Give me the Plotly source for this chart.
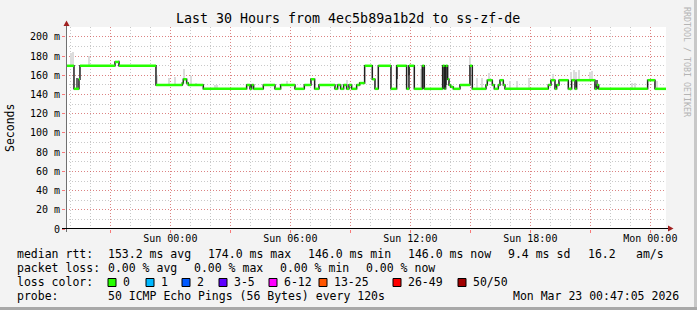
import plotly.graph_objects as go

# ---------------- data ----------------
start_time = "2026-03-21 18:47:05"
end_time = "2026-03-23 00:47:05"

step_times = [
    "2026-03-21 18:47:05", "2026-03-21 19:11", "2026-03-21 19:26", "2026-03-21 19:29",
    "2026-03-21 21:14", "2026-03-21 21:26", "2026-03-21 23:17",
    "2026-03-22 00:36", "2026-03-22 00:39", "2026-03-22 00:49", "2026-03-22 00:54",
    "2026-03-22 01:39", "2026-03-22 03:49", "2026-03-22 03:59", "2026-03-22 04:04",
    "2026-03-22 04:10", "2026-03-22 04:39", "2026-03-22 05:14", "2026-03-22 05:31",
    "2026-03-22 06:14", "2026-03-22 06:42", "2026-03-22 07:02", "2026-03-22 07:13",
    "2026-03-22 07:26", "2026-03-22 08:14", "2026-03-22 08:22", "2026-03-22 08:31",
    "2026-03-22 08:40", "2026-03-22 08:49", "2026-03-22 08:56", "2026-03-22 09:04",
    "2026-03-22 09:19", "2026-03-22 09:28", "2026-03-22 09:43", "2026-03-22 10:06",
    "2026-03-22 10:14", "2026-03-22 10:24", "2026-03-22 11:02", "2026-03-22 11:19",
    "2026-03-22 11:49", "2026-03-22 11:56", "2026-03-22 12:12", "2026-03-22 12:36",
    "2026-03-22 12:42", "2026-03-22 13:37", "2026-03-22 13:43", "2026-03-22 13:46",
    "2026-03-22 13:52", "2026-03-22 13:56", "2026-03-22 14:01", "2026-03-22 14:09",
    "2026-03-22 14:29", "2026-03-22 14:59", "2026-03-22 15:06", "2026-03-22 15:47",
    "2026-03-22 15:51", "2026-03-22 16:06", "2026-03-22 16:12", "2026-03-22 16:24",
    "2026-03-22 16:29", "2026-03-22 16:39", "2026-03-22 16:44", "2026-03-22 18:54",
    "2026-03-22 19:02", "2026-03-22 19:14", "2026-03-22 19:19", "2026-03-22 19:26",
    "2026-03-22 19:54", "2026-03-22 20:04", "2026-03-22 20:14", "2026-03-22 20:19",
    "2026-03-22 21:14", "2026-03-22 21:19", "2026-03-22 21:25", "2026-03-22 23:52",
    "2026-03-23 00:14",
]
median_ms = [
    170, 146, 156, 170,
    174, 170, 150,
    152, 156, 152, 150,
    146, 150, 146, 150,
    146, 150, 146, 150,
    146, 150, 156, 146,
    150, 146, 150, 146,
    150, 146, 150, 146,
    150, 152, 170, 156,
    146, 170, 146, 170,
    146, 170, 146, 170,
    146, 170, 146, 170,
    156, 150, 148, 146,
    150, 170, 146, 150,
    155, 150, 146, 150,
    155, 150, 146, 150,
    155, 146, 150, 155,
    146, 155, 146, 155,
    146, 150, 146, 155,
    146,
]

smoke_light_times = [
    "2026-03-21 19:02", "2026-03-21 19:08", "2026-03-21 19:57", "2026-03-21 21:26",
    "2026-03-21 23:21", "2026-03-21 23:56", "2026-03-22 00:14", "2026-03-22 00:41",
    "2026-03-22 01:03", "2026-03-22 01:19", "2026-03-22 02:16", "2026-03-22 02:20",
    "2026-03-22 05:52", "2026-03-22 08:52", "2026-03-22 12:32", "2026-03-22 14:59",
    "2026-03-22 15:20", "2026-03-22 15:37", "2026-03-22 15:58", "2026-03-22 17:01",
    "2026-03-22 17:22", "2026-03-22 17:56", "2026-03-22 19:09", "2026-03-22 20:04",
    "2026-03-22 20:11", "2026-03-22 20:19", "2026-03-22 20:26", "2026-03-22 21:01",
    "2026-03-22 21:07", "2026-03-22 23:07", "2026-03-22 23:16", "2026-03-23 00:22",
]
smoke_light_lo = [
    170, 170, 170, 170, 150, 150, 150, 156, 150, 150, 146, 146, 150, 146, 146, 150,
    146, 146, 155, 146, 146, 146, 155, 155, 155, 155, 155, 155, 155, 146, 146, 146,
]
smoke_light_hi = [
    183, 184, 180, 176, 160, 157, 158, 167, 159, 152, 150, 150, 154, 155, 167, 180,
    157, 157, 163, 154, 154, 157, 161, 164, 166, 164, 166, 164, 165, 152, 152, 154,
]

smoke_dark_times = [
    "2026-03-21 19:20", "2026-03-22 11:20", "2026-03-22 11:56", "2026-03-22 12:41",
    "2026-03-22 13:40", "2026-03-22 13:49", "2026-03-22 21:20",
]
smoke_dark_lo = [146, 156, 160, 146, 146, 150, 146]
smoke_dark_hi = [157, 170, 170, 170, 170, 170, 155]

y_tick_vals = [0, 20, 40, 60, 80, 100, 120, 140, 160, 180, 200]
y_tick_text = ["0", "20 m", "40 m", "60 m", "80 m", "100 m", "120 m",
               "140 m", "160 m", "180 m", "200 m"]

x_tick_vals = ["2026-03-21 21:00", "2026-03-22 00:00", "2026-03-22 03:00",
               "2026-03-22 06:00", "2026-03-22 09:00", "2026-03-22 12:00",
               "2026-03-22 15:00", "2026-03-22 18:00", "2026-03-22 21:00",
               "2026-03-23 00:00"]
x_tick_text = ["", "Sun 00:00", "", "Sun 06:00", "", "Sun 12:00", "",
               "Sun 18:00", "", "Mon 00:00"]

title_text = "Last 30 Hours from 4ec5b89a1b2d to ss-zf-de"

legend_rows = [
    [("median rtt:", 16), ("153.2 ms avg", 107), ("174.0 ms max", 207),
     ("146.0 ms min", 307), ("146.0 ms now", 407), ("9.4 ms sd", 507),
     ("16.2", 587), ("am/s", 635)],
    [("packet loss:", 16), ("0.00 % avg", 107), ("0.00 % max", 193),
     ("0.00 % min", 279), ("0.00 % now", 365)],
    [("loss color:", 16)],
    [("probe:", 16), ("50 ICMP Echo Pings (56 Bytes) every 120s", 107)],
]
loss_labels = ["0", "1", "2", "3-5", "6-12", "13-25", "26-49", "50/50"]
loss_colors = ["#26ff00", "#00b8ff", "#0059ff", "#5e00ff", "#ff00ff",
               "#ff5500", "#ff0000", "#a10000"]
loss_box_x = [108, 146, 182, 219, 269, 319, 393, 458]
timestamp_text = "Mon Mar 23 00:47:05 2026"

# ---------------- geometry ----------------
W, H = 697, 310
L, R, T, B = 66, 31, 27, 81
PW, PH = W - L - R, H - T - B
MONO = "DejaVu Sans Mono"


def px(x):
    return (x - L) / PW


def py(y):
    return (H - B - y) / PH


fig = go.Figure()

# smoke
fig.add_trace(go.Bar(
    x=smoke_light_times, base=smoke_light_lo,
    y=[h - l for h, l in zip(smoke_light_hi, smoke_light_lo)],
    width=300000, marker=dict(color="#dcdcdc", line=dict(width=0)),
    hoverinfo="skip", showlegend=False))
fig.add_trace(go.Bar(
    x=smoke_dark_times, base=smoke_dark_lo,
    y=[h - l for h, l in zip(smoke_dark_hi, smoke_dark_lo)],
    width=300000, marker=dict(color="#6a6a6a", line=dict(width=0)),
    hoverinfo="skip", showlegend=False))

# median step line (black transitions)
fig.add_trace(go.Scatter(
    x=step_times + [end_time], y=median_ms + [median_ms[-1]],
    mode="lines", line=dict(color="#202020", width=1.5, shape="hv"),
    hoverinfo="skip", showlegend=False))

# green (0 % loss) horizontal segments
gx, gy = [], []
seg_ends = step_times[1:] + [end_time]
for t0, t1, v in zip(step_times, seg_ends, median_ms):
    gx += [t0, t1, None]
    gy += [v, v, None]
fig.add_trace(go.Scatter(
    x=gx, y=gy, mode="lines", line=dict(color="#26ff00", width=2.5),
    hoverinfo="skip", showlegend=False))

annotations = []
shapes = []

annotations.append(dict(text=title_text, x=px(347.5), y=py(19), xref="paper", yref="paper",
                        showarrow=False, xanchor="center", yanchor="middle",
                        font=dict(family=MONO, size=13.3, color="#000000")))
annotations.append(dict(text="Seconds", x=px(10), y=py(128), xref="paper", yref="paper",
                        showarrow=False, textangle=-90, xanchor="center", yanchor="middle",
                        font=dict(family=MONO, size=11.5, color="#000000")))
annotations.append(dict(text="RRDTOOL / TOBI OETIKER", x=px(687), y=py(62), xref="paper",
                        yref="paper", showarrow=False, textangle=90, xanchor="center",
                        yanchor="middle", font=dict(family=MONO, size=8.3, color="#b4b4b4")))

row_y = [254.3, 268.3, 282.3, 296]
for row, yy in zip(legend_rows, row_y):
    for txt, xx in row:
        annotations.append(dict(text=txt.replace(" ", "\u00a0"), x=px(xx), y=py(yy),
                                xref="paper", yref="paper", showarrow=False,
                                xanchor="left", yanchor="middle", borderpad=0,
                                font=dict(family=MONO, size=11.5, color="#000000")))
annotations.append(dict(text=timestamp_text.replace(" ", "\u00a0"), x=px(680), y=py(296),
                        xref="paper", yref="paper", showarrow=False, xanchor="right",
                        yanchor="middle", borderpad=0,
                        font=dict(family=MONO, size=11.5, color="#000000")))

for lab, col, bx in zip(loss_labels, loss_colors, loss_box_x):
    shapes.append(dict(type="rect", xref="paper", yref="paper",
                       x0=px(bx), x1=px(bx + 8), y0=py(278.5), y1=py(286.5),
                       fillcolor=col, line=dict(color="#000000", width=1)))
    annotations.append(dict(text=lab, x=px(bx + 14), y=py(282.3), xref="paper", yref="paper",
                            showarrow=False, xanchor="left", yanchor="middle", borderpad=0,
                            font=dict(family=MONO, size=11.5, color="#000000")))

# axes lines and arrows
shapes.append(dict(type="line", xref="paper", yref="paper", x0=px(66.5), x1=px(66.5),
                   y0=py(232), y1=py(24), line=dict(color="#707070", width=1)))
shapes.append(dict(type="path", xref="paper", yref="paper",
                   path=f"M {px(63.5)} {py(26)} L {px(69.5)} {py(26)} L {px(66.5)} {py(20.5)} Z",
                   fillcolor="#a02020", line=dict(color="#a02020", width=0)))
shapes.append(dict(type="line", xref="paper", yref="paper", x0=px(62), x1=px(669),
                   y0=py(228.5), y1=py(228.5), line=dict(color="#000000", width=1)))
shapes.append(dict(type="path", xref="paper", yref="paper",
                   path=f"M {px(668)} {py(225.5)} L {px(668)} {py(231.5)} L {px(673.5)} {py(228.5)} Z",
                   fillcolor="#a02020", line=dict(color="#a02020", width=0)))
# frame
shapes.append(dict(type="rect", xref="paper", yref="paper", x0=px(694), x1=px(697),
                   y0=py(0), y1=py(310), fillcolor="#c8c8c8", line=dict(width=0)))
shapes.append(dict(type="rect", xref="paper", yref="paper", x0=px(0), x1=px(697),
                   y0=py(307), y1=py(310), fillcolor="#a8a8a8", line=dict(width=0)))

fig.update_layout(
    width=W, height=H,
    margin=dict(l=L, r=R, t=T, b=B, pad=0),
    paper_bgcolor="#f3f3f3", plot_bgcolor="#ffffff",
    barmode="overlay", bargap=0, showlegend=False,
    annotations=annotations, shapes=shapes,
    font=dict(family=MONO, color="#000000"),
    xaxis=dict(
        type="date", range=[start_time, end_time],
        tickvals=x_tick_vals, ticktext=x_tick_text,
        showgrid=True, gridcolor="rgba(255,0,0,0.35)", griddash="1px,2px", gridwidth=1,
        minor=dict(dtick=3600000, showgrid=True, gridcolor="rgba(120,120,120,0.4)",
                   griddash="1px,2px", ticks=""),
        ticks="outside", ticklen=3, tickcolor="rgba(255,0,0,0.5)",
        ticklabelstandoff=-3,
        tickfont=dict(family=MONO, size=10, color="#000000"),
        showline=False, zeroline=False, fixedrange=True,
    ),
    yaxis=dict(
        range=[0, 210.4], tickvals=y_tick_vals, ticktext=y_tick_text,
        showgrid=True, gridcolor="rgba(255,0,0,0.35)", griddash="1px,2px", gridwidth=1,
        minor=dict(dtick=10, showgrid=True, gridcolor="rgba(120,120,120,0.4)",
                   griddash="1px,2px", ticks=""),
        ticks="outside", ticklen=3, tickcolor="rgba(255,0,0,0.5)",
        tickfont=dict(family=MONO, size=10, color="#000000"),
        showline=False, zeroline=False, fixedrange=True,
    ),
)

fig.write_html("out.html")
